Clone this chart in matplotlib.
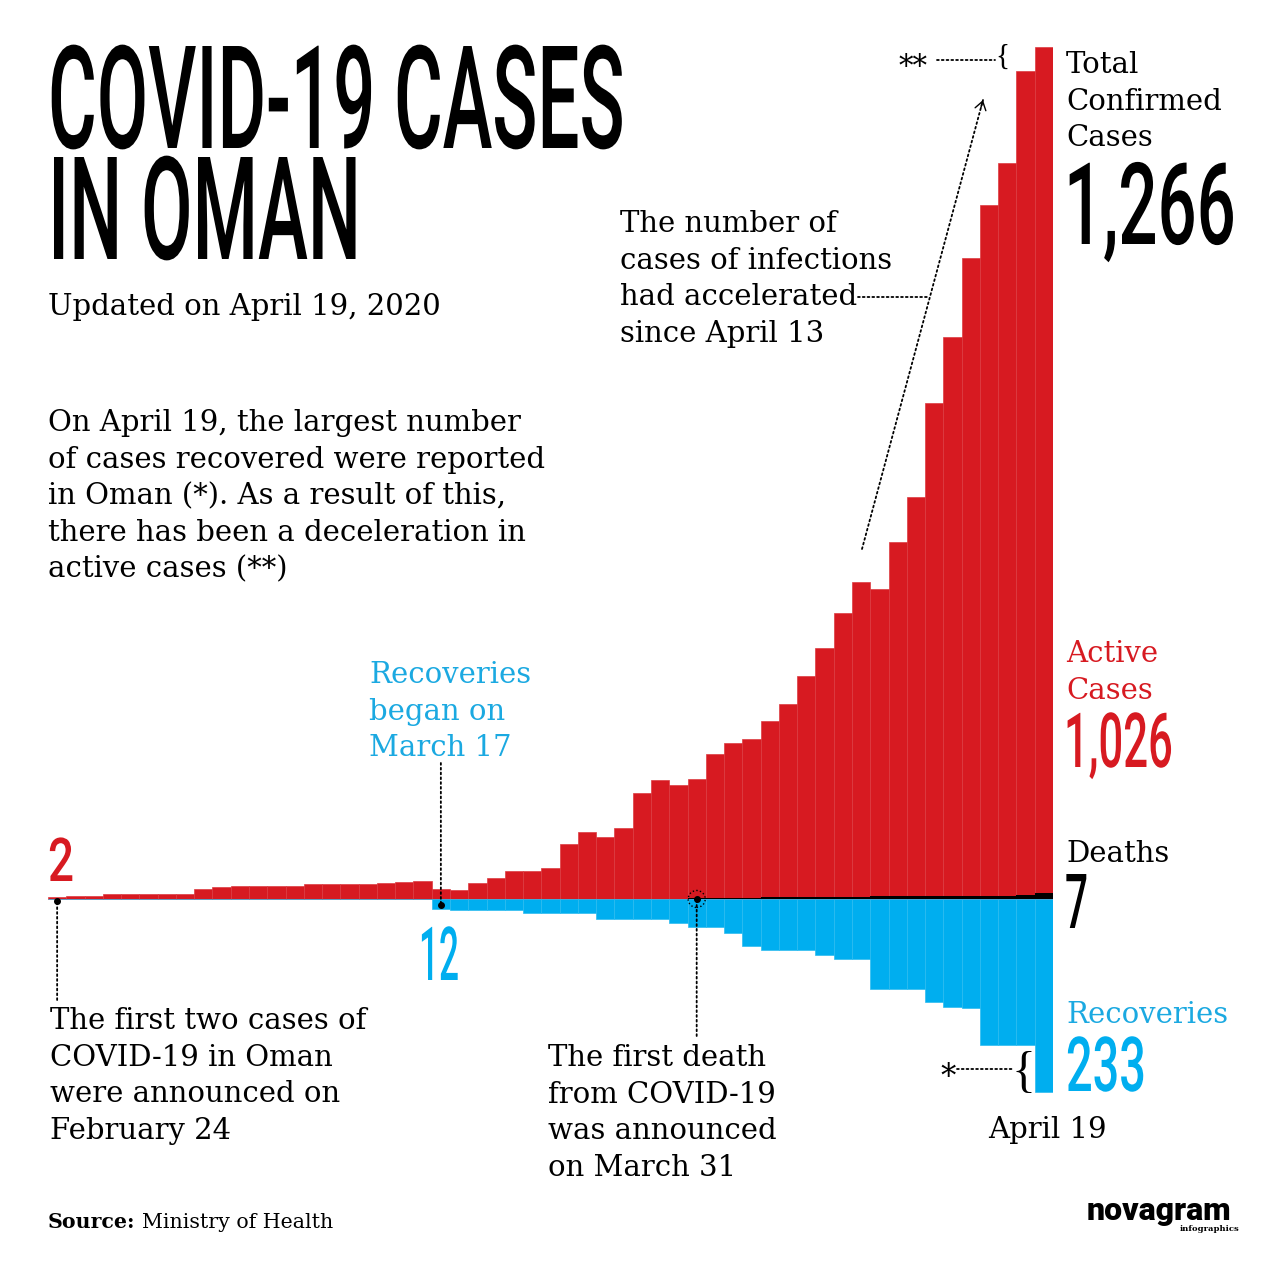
import numpy as np
import pandas as pd
import matplotlib
matplotlib.use('Agg')
import matplotlib.pyplot as plt
from matplotlib.patheffects import AbstractPathEffect
from matplotlib.transforms import Affine2D

# daily figures, Feb 25 .. Apr 19 2020
dates = pd.date_range('2020-02-25', '2020-04-19')
active = [2, 4, 4, 6, 6, 6, 6, 6, 12, 14, 16, 16, 16, 16, 18, 18, 18, 18, 19, 20,
          22, 12, 11, 19, 25, 34, 34, 37, 66, 81, 75, 85, 128, 143, 137, 144, 175,
          188, 193, 214, 235, 268, 302, 344, 382, 373, 430, 484, 597, 677, 772,
          836, 886, 997, 1026]
recovered = [0] * 21 + [12, 13, 13, 13, 13, 17, 17, 17, 17, 24, 24, 24, 24, 29,
                        34, 34, 41, 57, 61, 61, 61, 67, 72, 72, 109, 109, 109,
                        124, 130, 131, 176, 176, 176, 233]
deaths = [0] * 35 + [1, 1, 1, 1, 2, 2, 2, 2, 2, 2, 3, 3, 3, 4, 4, 4, 4, 4, 5, 7]

total_label = '1,266'
active_label = '1,026'
deaths_label = '7'
recovered_label = '233'

W, H = 1280, 1280
RED = '#d71a21'
BLUE = '#00aeef'
BLUE_TXT = '#1ba9e1'
SERIF = ['DejaVu Serif']
COND = ['Roboto', 'DejaVu Sans']
THIN = ['Liberation Serif', 'DejaVu Serif']

fig = plt.figure(figsize=(W / 100, H / 100), dpi=100)
fig.patch.set_facecolor('white')
renderer = fig.canvas.get_renderer()


class Stretch(AbstractPathEffect):
    # tall, narrow lettering: stretch glyphs upward from the baseline
    def __init__(self, sy):
        super().__init__()
        self.sy = sy

    def draw_path(self, renderer, gc, tpath, affine, rgbFace=None):
        renderer.draw_path(gc, tpath, Affine2D().scale(1, self.sy) + affine, rgbFace)


def fxy(x, y):
    return x / W, 1 - y / H


def txt(x, y, s, size=21, color='black', family=SERIF, **kw):
    return fig.text(*fxy(x, y), s, fontsize=size, color=color, family=family,
                    va='baseline', ha='left', **kw)


def condensed(x, y, s, width, cap, color='black'):
    t = txt(x, y, s, size=50, color=color, family=COND, weight='medium')
    size = 50 * width / t.get_window_extent(renderer).width
    t.set_fontsize(size)
    cap_px = 0.711 * size * 100 / 72
    t.set_path_effects([Stretch(cap / cap_px)])
    return t


def block(x, y, lines, color='black', step=36.7):
    for i, line in enumerate(lines):
        txt(x, y + i * step, line, color=color)


# chart
ax = fig.add_axes([48 / W, (H - 1100) / H, 1005 / W, 1060 / H])
x = np.arange(len(active))
ax.bar(x, active, width=1.0, color=RED, edgecolor='#dc3b41', linewidth=0.5, zorder=2)
ax.bar(x, -np.array(recovered), width=1.0, color=BLUE, edgecolor='#2cbbf0',
       linewidth=0.5, zorder=2)
ax.bar(x, deaths, width=1.0, color='black', linewidth=0, zorder=3)
ax.set_xlim(-0.5, len(active) - 0.5)
ax.set_ylim(-242.1, 1034.4)
ax.axis('off')

dots = dict(arrowstyle='-', linestyle=':', lw=1.3, color='black', shrinkA=0, shrinkB=0)
ax.plot([0, 21], [-2, -7], 'o', color='black', ms=4, zorder=5)
ax.plot(35, 0, 'o', color='black', ms=4, zorder=5)
ax.scatter([35], [0], s=150, facecolors='none', edgecolors='black', linestyles=':',
           linewidths=1, zorder=5)
ax.annotate('', xy=(0, -2), xytext=(0, fxy(0, 1000)[1]),
            textcoords=('data', 'figure fraction'), arrowprops=dots, annotation_clip=False)
ax.annotate('', xy=(21, -7), xytext=(21, fxy(0, 763)[1]),
            textcoords=('data', 'figure fraction'), arrowprops=dots, annotation_clip=False)
ax.annotate('', xy=(35, 0), xytext=(35, fxy(0, 1036)[1]),
            textcoords=('data', 'figure fraction'), arrowprops=dots, annotation_clip=False)

# diagonal arrow and other leader lines
ax.annotate('', xy=fxy(983, 100), xycoords='figure fraction', xytext=fxy(862, 549),
            textcoords='figure fraction', arrowprops=dots, annotation_clip=False)
ax.annotate('', xy=fxy(983, 100), xycoords='figure fraction', xytext=fxy(980.9, 107.7),
            textcoords='figure fraction', annotation_clip=False,
            arrowprops=dict(arrowstyle='->,head_length=0.6,head_width=0.4', lw=1,
                            color='black', shrinkA=0, shrinkB=0))
ax.annotate('', xy=fxy(929, 297), xycoords='figure fraction', xytext=fxy(858, 297),
            textcoords='figure fraction', arrowprops=dots, annotation_clip=False)
ax.annotate('', xy=fxy(995, 60), xycoords='figure fraction', xytext=fxy(937, 60),
            textcoords='figure fraction', arrowprops=dots, annotation_clip=False)
ax.annotate('', xy=fxy(1012, 1069), xycoords='figure fraction', xytext=fxy(957, 1069),
            textcoords='figure fraction', arrowprops=dots, annotation_clip=False)

txt(899, 75, '**', size=21)
txt(995, 64, '{', size=21, family=THIN)
txt(940, 1086, '*', size=22)
txt(1011, 1086, '{', size=36, family=THIN)

# title and text
condensed(48, 148, 'COVID-19 CASES', 577, 102)
condensed(48, 259, 'IN OMAN', 313, 102)
txt(48, 315, 'Updated on April 19, 2020')

block(48, 431, ['On April 19, the largest number',
                'of cases recovered were reported',
                'in Oman (*). As a result of this,',
                'there has been a deceleration in',
                'active cases (**)'])
block(620, 232, ['The number of', 'cases of infections', 'had accelerated',
                 'since April 13'])
block(369, 683, ['Recoveries', 'began on', 'March 17'], color=BLUE_TXT)
block(50, 1029, ['The first two cases of', 'COVID-19 in Oman',
                 'were announced on', 'February 24'])
block(548, 1066, ['The first death', 'from COVID-19', 'was announced',
                  'on March 31'])

condensed(48, 881, str(active[0]), 26, 43, RED)
condensed(419, 980, str(recovered[21]), 40, 53, BLUE)

block(1066, 73, ['Total', 'Confirmed', 'Cases'])
condensed(1064, 244, total_label, 172, 81)
block(1066, 662, ['Active', 'Cases'], color=RED)
condensed(1064, 767, active_label, 109, 54, RED)
txt(1066, 862, 'Deaths')
condensed(1065, 928, deaths_label, 23, 54)
txt(1066, 1023, 'Recoveries', color=BLUE_TXT)
condensed(1066, 1091, recovered_label, 80, 54, BLUE)
txt(988, 1138, 'April 19')

txt(48, 1228, 'Source:', size=14.8, weight='bold')
txt(142, 1228, 'Ministry of Health', size=14.8)
txt(1087, 1220, 'novagram', size=23, family=COND, weight='black')
txt(1180, 1231, 'infographics', size=6, weight='bold')

fig.savefig('out.png', dpi=100)
